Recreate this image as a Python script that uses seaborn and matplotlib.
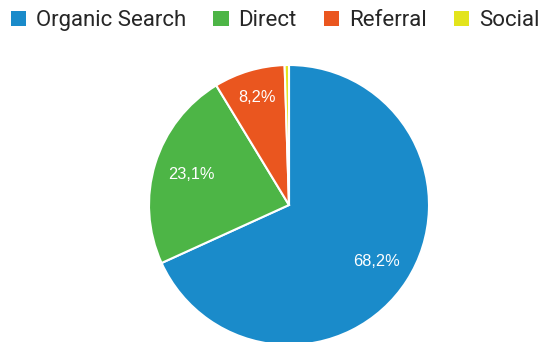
import matplotlib
matplotlib.use("Agg")
import matplotlib.pyplot as plt
from matplotlib.patches import Patch
import numpy as np
import seaborn as sns

# Traffic sources, share of sessions (%)
channels = ["Organic Search", "Direct", "Referral", "Social"]
shares = [68.2, 23.1, 8.2, 0.5]
colors = ["#1a8bca", "#4db546", "#ea561f", "#e3e41c"]

sns.set_theme(style="white")
plt.rcParams["font.family"] = ["Roboto", "DejaVu Sans"]

W, H = 544, 342
fig = plt.figure(figsize=(W / 100, H / 100), dpi=100)
ax = fig.add_axes([0, 0, 1, 1])

cx, cy, r = 289, H - 205, 140
wedges, _ = ax.pie(
    shares,
    colors=colors,
    startangle=90,
    counterclock=False,
    center=(cx, cy),
    radius=r,
    wedgeprops=dict(edgecolor="white", linewidth=1.5),
)

# percentage labels inside the larger slices
label_radius = [0.74, 0.73, 0.80, None]
for w, val, lr in zip(wedges, shares, label_radius):
    if lr is None:
        continue
    mid = np.deg2rad((w.theta1 + w.theta2) / 2)
    ax.text(cx + lr * r * np.cos(mid), cy + lr * r * np.sin(mid),
            f"{val:.1f}%".replace(".", ","), color="white",
            ha="center", va="center", fontsize=11.8,
            family=["Liberation Sans", "DejaVu Sans"])

ax.set_xlim(0, W)
ax.set_ylim(0, H)
ax.set_aspect("auto")
ax.axis("off")

handles = [Patch(facecolor=c, edgecolor="none") for c in colors]
fs = 16
ax.legend(handles, channels, loc="upper left", ncol=4, frameon=False,
          bbox_to_anchor=(11 / W, 1 - 10 / H), bbox_transform=fig.transFigure,
          borderaxespad=0, borderpad=0, fontsize=fs,
          handlelength=0.68, handleheight=0.68, handletextpad=0.45,
          columnspacing=1.22)

fig.savefig("out.png", dpi=100, facecolor="white")
